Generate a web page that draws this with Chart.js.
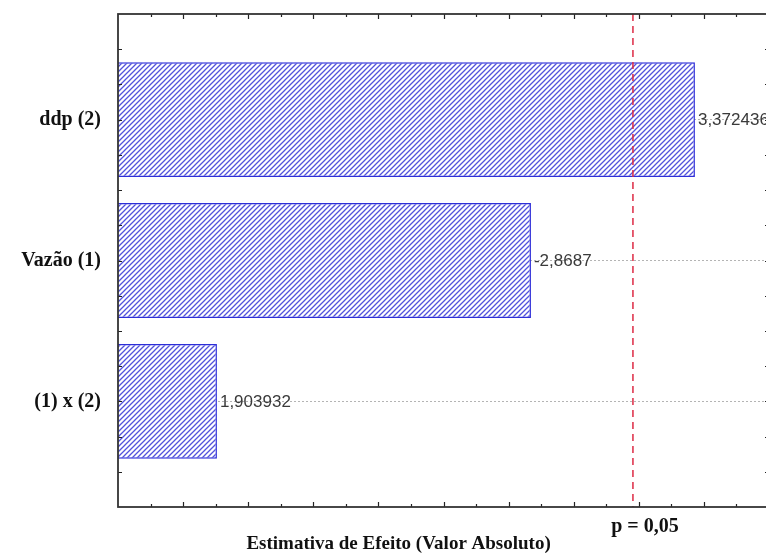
<!DOCTYPE html>
<html>
<head>
<meta charset="utf-8">
<script src="https://cdn.jsdelivr.net/npm/chart.js@4/dist/chart.umd.min.js"></script>
<style>
  html, body { margin: 0; padding: 0; overflow: hidden; background: #fff; width: 766px; height: 554px; }
  #wrap { position: relative; width: 790px; height: 554px; }
</style>
</head>
<body>
<div id="wrap"><canvas id="c"></canvas></div>
<script>
// Pareto chart of standardized effects
const factors = ['ddp (2)', 'Vazão (1)', '(1) x (2)'];
const effects = [3.372436, -2.8687, 1.903932];
const criticalT = 3.182;            // t(0,975; 3 g.l.)
const criticalLabel = 'p = 0,05';
const axisTitle = 'Estimativa de Efeito (Valor Absoluto)';
const xRange = [1.6, 3.6];
const yRange = [0.25, 3.75];

const fmt = v => String(v).replace('.', ',');

// diagonal hatch fill
function hatch() {
  const s = 5;
  const c = document.createElement('canvas');
  c.width = s; c.height = s;
  const g = c.getContext('2d');
  g.fillStyle = '#ffffff';
  g.fillRect(0, 0, s, s);
  g.strokeStyle = '#5252dc';
  g.lineWidth = 1.3;
  g.beginPath();
  g.moveTo(0, s); g.lineTo(s, 0);
  g.moveTo(-1, 1); g.lineTo(1, -1);
  g.moveTo(s - 1, s + 1); g.lineTo(s + 1, s - 1);
  g.stroke();
  return g.createPattern(c, 'repeat');
}

const points = effects.map((e, i) => ({ x: Math.abs(e), y: i + 1 }));

const framePlugin = {
  id: 'frame',
  afterDatasetsDraw(chart) {
    const { ctx, chartArea: a, scales: { x, y } } = chart;
    ctx.save();
    // value labels at bar ends
    ctx.font = '17px "Liberation Sans", Arial, sans-serif';
    ctx.fillStyle = '#3a3a3a';
    ctx.textAlign = 'left';
    ctx.textBaseline = 'middle';
    chart.getDatasetMeta(0).data.forEach((bar, i) => {
      ctx.fillText(fmt(effects[i]), bar.x + 3, bar.y + 1);
    });
    // significance line
    const xc = x.getPixelForValue(criticalT);
    ctx.strokeStyle = '#dd2a44';
    ctx.lineWidth = 1.5;
    ctx.setLineDash([7, 5]);
    ctx.beginPath();
    ctx.moveTo(xc, a.top);
    ctx.lineTo(xc, a.bottom);
    ctx.stroke();
    ctx.setLineDash([]);
    // inward ticks
    ctx.strokeStyle = '#222';
    ctx.lineWidth = 1.2;
    ctx.beginPath();
    for (let k = 1; k < Math.round((xRange[1] - xRange[0]) * 10); k++) {
      const v = xRange[0] + k * 0.1;
      const px = Math.round(x.getPixelForValue(v)) + 0.5;
      const len = Math.round(v * 10) % 2 === 0 ? 5 : 3;
      ctx.moveTo(px, a.bottom); ctx.lineTo(px, a.bottom - len);
      ctx.moveTo(px, a.top); ctx.lineTo(px, a.top + len);
    }
    for (let v = yRange[0] + 0.25; v < yRange[1] - 0.01; v += 0.25) {
      const py = Math.round(y.getPixelForValue(v)) + 0.5;
      ctx.moveTo(a.left, py); ctx.lineTo(a.left + 4, py);
      ctx.moveTo(a.right, py); ctx.lineTo(a.right - 4, py);
    }
    ctx.stroke();
    // frame
    ctx.strokeStyle = '#333';
    ctx.lineWidth = 1.8;
    ctx.strokeRect(a.left, a.top, a.right - a.left, a.bottom - a.top);
    // axis title and p label
    ctx.fillStyle = '#111';
    ctx.textAlign = 'center';
    ctx.textBaseline = 'alphabetic';
    ctx.font = 'bold 19px "Liberation Serif", "Times New Roman", serif';
    ctx.fillText(axisTitle, a.left + (a.right - a.left) * 0.431, 549);
    ctx.font = 'bold 20px "Liberation Serif", "Times New Roman", serif';
    ctx.fillText(criticalLabel, xc + 12, 532);
    ctx.restore();
  }
};

new Chart(document.getElementById('c'), {
  type: 'bar',
  data: {
    datasets: [{
      data: points,
      backgroundColor: hatch(),
      borderColor: '#2e2ed8',
      borderWidth: 1.5,
      borderSkipped: false,
      categoryPercentage: 1,
      barPercentage: 0.816
    }]
  },
  options: {
    indexAxis: 'y',
    responsive: true,
    maintainAspectRatio: false,
    animation: false,
    layout: { padding: { top: 14, right: 21, left: 0, bottom: 0 } },
    plugins: { legend: { display: false }, tooltip: { enabled: false } },
    scales: {
      x: {
        type: 'linear',
        min: xRange[0],
        max: xRange[1],
        grid: { display: false },
        border: { display: false },
        ticks: { display: false },
        afterFit: s => { s.height = 47; s.paddingLeft = 0; s.paddingRight = 0; }
      },
      y: {
        type: 'linear',
        reverse: true,
        offset: false,
        min: yRange[0],
        max: yRange[1],
        afterBuildTicks: s => { s.ticks = factors.map((_, i) => ({ value: i + 1 })); },
        afterFit: s => { s.width = 118; s.paddingTop = 0; s.paddingBottom = 0; },
        grid: { color: '#b4b4b4', lineWidth: 1, drawTicks: false, offset: false },
        border: { display: false, dash: [2, 2] },
        ticks: {
          padding: 17,
          color: '#111',
          font: { family: '"Liberation Serif", "Times New Roman", serif', size: 20, weight: 'bold' },
          callback: v => factors[Math.round(v) - 1] || ''
        }
      }
    }
  },
  plugins: [framePlugin]
});
</script>
</body>
</html>
